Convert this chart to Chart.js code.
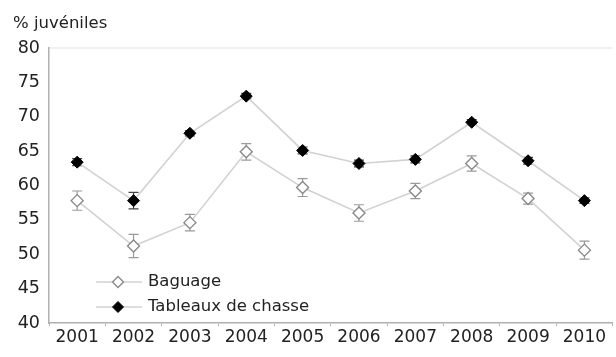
<!DOCTYPE html>
<html>
<head>
<meta charset="utf-8">
<script src="https://cdn.jsdelivr.net/npm/chart.js@4"></script>
<style>
  html, body { margin: 0; padding: 0; background: #fff; overflow: hidden; }
  #wrap { width: 620px; height: 357px; position: relative; }
</style>
</head>
<body>
<div id="wrap"><canvas id="c" width="620" height="357"></canvas></div>
<script>
const years = ['2001','2002','2003','2004','2005','2006','2007','2008','2009','2010'];
const baguage = [57.8, 51.2, 54.6, 64.9, 59.7, 56.0, 59.2, 63.2, 58.1, 50.6];
const baguageErr = [1.4, 1.7, 1.2, 1.2, 1.3, 1.2, 1.1, 1.1, 0.8, 1.3];
const tableaux = [63.4, 57.8, 67.6, 73.0, 65.1, 63.2, 63.8, 69.2, 63.6, 57.8];
const tableauxErr = [0.5, 1.2, 0.4, 0.4, 0.5, 0.5, 0.5, 0.4, 0.5, 0.4];
const yTicks = [40, 45, 50, 55, 60, 65, 70, 75, 80];
const yTitle = '% juvéniles';
const legendLabels = ['Baguage', 'Tableaux de chasse'];

const FONT = 'DejaVu Sans';
const TEXT = '#222';

const errorBars = {
  id: 'errorBars',
  beforeDatasetsDraw(chart) {
    const ctx = chart.ctx, y = chart.scales.y;
    const errs = [baguageErr, tableauxErr];
    const cols = ['#9a9a9a', '#444'];
    chart.data.datasets.forEach((ds, i) => {
      const meta = chart.getDatasetMeta(i);
      meta.data.forEach((pt, j) => {
        const v = ds.data[j], e = errs[i][j];
        const yt = y.getPixelForValue(v + e), yb = y.getPixelForValue(v - e);
        ctx.save();
        ctx.strokeStyle = cols[i];
        ctx.lineWidth = 1.2;
        ctx.beginPath();
        ctx.moveTo(pt.x, yt); ctx.lineTo(pt.x, yb);
        ctx.moveTo(pt.x - 5, yt); ctx.lineTo(pt.x + 5, yt);
        ctx.moveTo(pt.x - 5, yb); ctx.lineTo(pt.x + 5, yb);
        ctx.stroke();
        ctx.restore();
      });
    });
  }
};

const extras = {
  id: 'extras',
  beforeDraw(chart) {
    const ctx = chart.ctx, a = chart.chartArea;
    ctx.save();
    ctx.strokeStyle = '#ededed';
    ctx.lineWidth = 1.5;
    ctx.beginPath(); ctx.moveTo(a.left, a.top); ctx.lineTo(a.right, a.top); ctx.stroke();
    ctx.restore();
  },
  afterDraw(chart) {
    const ctx = chart.ctx;
    ctx.save();
    ctx.fillStyle = TEXT;
    ctx.font = '16.5px "' + FONT + '"';
    ctx.textBaseline = 'middle';
    ctx.textAlign = 'left';
    ctx.fillText(yTitle, 13, 24);
    const rows = [282, 307];
    chart.data.datasets.forEach((ds, i) => {
      const yy = rows[i];
      ctx.strokeStyle = '#d2d2d2';
      ctx.lineWidth = 1.5;
      ctx.beginPath(); ctx.moveTo(96, yy); ctx.lineTo(142, yy); ctx.stroke();
      const r = 5.5;
      ctx.beginPath();
      ctx.moveTo(118, yy - r); ctx.lineTo(118 + r, yy); ctx.lineTo(118, yy + r); ctx.lineTo(118 - r, yy); ctx.closePath();
      ctx.fillStyle = ds.pointBackgroundColor;
      ctx.fill();
      ctx.strokeStyle = ds.pointBorderColor;
      ctx.lineWidth = ds.pointBorderWidth;
      ctx.stroke();
      ctx.fillStyle = TEXT;
      ctx.font = '16.5px "' + FONT + '"';
      ctx.fillText(legendLabels[i], 148, yy);
    });
    ctx.restore();
  }
};

new Chart(document.getElementById('c'), {
  type: 'line',
  data: {
    labels: years,
    datasets: [
      {
        label: legendLabels[0],
        data: baguage,
        borderColor: '#d2d2d2',
        borderWidth: 1.6,
        pointStyle: 'rectRot',
        pointRadius: 6,
        pointBackgroundColor: '#ffffff',
        pointBorderColor: '#8a8a8a',
        pointBorderWidth: 1.4,
        tension: 0
      },
      {
        label: legendLabels[1],
        data: tableaux,
        borderColor: '#d2d2d2',
        borderWidth: 1.6,
        pointStyle: 'rectRot',
        pointRadius: 6,
        pointBackgroundColor: '#000000',
        pointBorderColor: '#000000',
        pointBorderWidth: 1,
        tension: 0
      }
    ]
  },
  options: {
    responsive: false,
    animation: false,
    layout: { padding: { left: 0, top: 48, right: 2, bottom: 0 } },
    plugins: { legend: { display: false }, tooltip: { enabled: false } },
    scales: {
      x: {
        offset: true,
        grid: { display: true, drawOnChartArea: false, drawTicks: true, tickLength: 3, color: '#b0b0b0', offset: true },
        border: { display: true, color: '#b0b0b0', width: 1.5 },
        ticks: { color: TEXT, font: { family: FONT, size: 17 }, padding: 1, maxRotation: 0, autoSkip: false },
        afterFit(s) { s.height = 34; }
      },
      y: {
        min: 40, max: 80,
        afterBuildTicks(s) { s.ticks = yTicks.map(v => ({ value: v })); },
        grid: { display: false, drawTicks: false },
        border: { display: true, color: '#b0b0b0', width: 1.5 },
        ticks: { color: TEXT, font: { family: FONT, size: 17.5 }, padding: 9 },
        afterFit(s) { s.width = 49; }
      }
    }
  },
  plugins: [errorBars, extras]
});
</script>
</body>
</html>
